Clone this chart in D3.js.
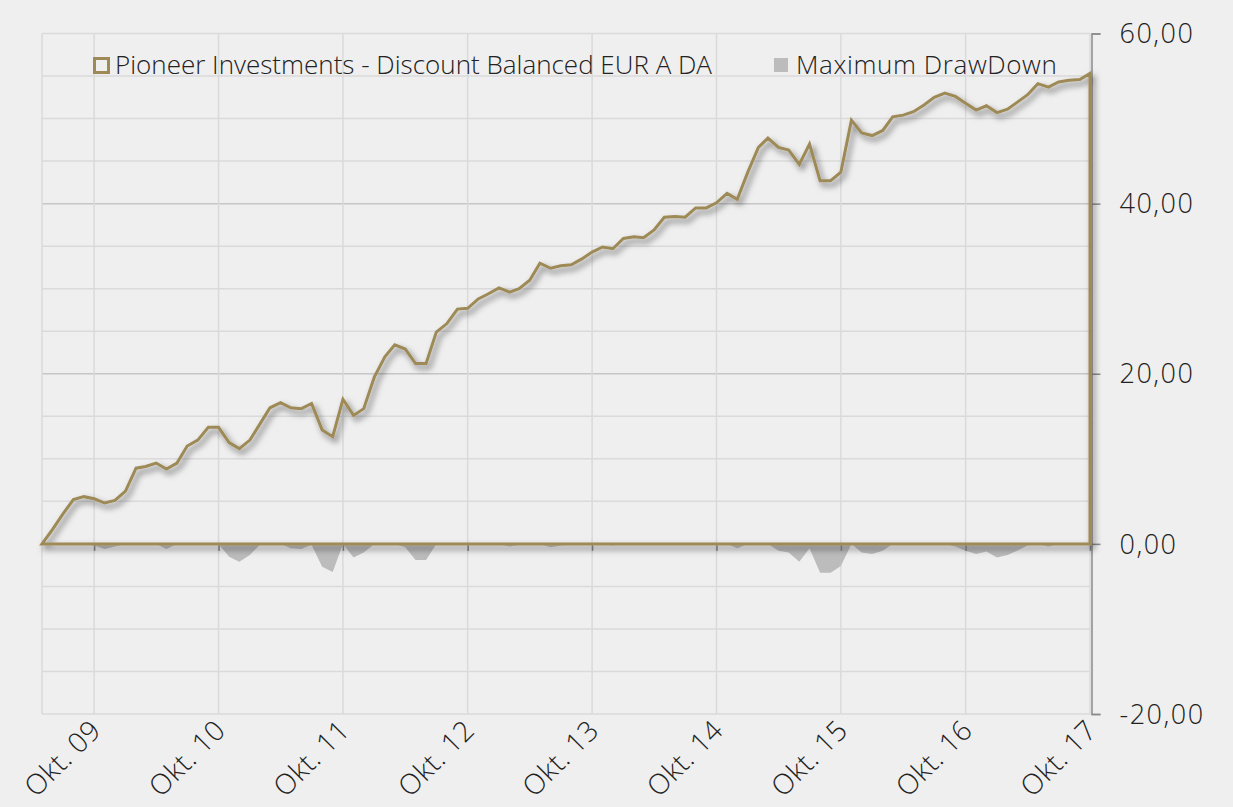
<!DOCTYPE html>
<html>
<head>
<meta charset="utf-8">
<script src="https://cdn.jsdelivr.net/npm/d3@7"></script>
<style>
  body { margin: 0; background: #efefef; }
  svg text { font-family: "Open Sans", sans-serif; font-weight: 300; fill: #222; }
</style>
</head>
<body>
<div id="chart"></div>
<script>
// monthly values, May 2009 .. Oct 2017 (cumulative performance in %)
var fundValues = [
  0, 1.7, 3.5, 5.2, 5.55, 5.3, 4.8, 5.1, 6.2, 8.9,
  9.1, 9.5, 8.8, 9.5, 11.5, 12.2, 13.7, 13.7, 11.9, 11.2,
  12.2, 14.2, 16.0, 16.6, 16.0, 15.9, 16.5, 13.4, 12.6, 17.0,
  15.1, 15.9, 19.6, 22.0, 23.4, 22.9, 21.2, 21.2, 24.9, 25.9,
  27.6, 27.7, 28.8, 29.4, 30.1, 29.6, 30.0, 31.0, 33.0, 32.4,
  32.7, 32.8, 33.5, 34.3, 34.9, 34.7, 35.9, 36.1, 36.0, 36.9,
  38.4, 38.5, 38.4, 39.5, 39.5, 40.1, 41.2, 40.5, 43.7, 46.6,
  47.7, 46.6, 46.3, 44.6, 47.0, 42.7, 42.7, 43.7, 49.8, 48.3,
  48.0, 48.6, 50.2, 50.4, 50.8, 51.6, 52.5, 53.0, 52.6, 51.8,
  51.0, 51.5, 50.7, 51.1, 51.9, 52.8, 54.1, 53.7, 54.3, 54.5,
  54.6, 55.3
];

var drawdownValues = [
  0, 0, 0, 0, 0, -0.2, -0.6, -0.3, 0, 0,
  0, 0, -0.6, 0, 0, 0, 0, 0, -1.5, -2.1,
  -1.3, 0, 0, 0, -0.5, -0.6, -0.1, -2.7, -3.3, 0,
  -1.6, -1.0, 0, 0, 0, -0.4, -1.9, -1.9, 0, 0,
  0, 0, 0, 0, 0, -0.3, -0.1, 0, 0, -0.4,
  -0.2, -0.1, 0, 0, 0, -0.2, 0, 0, -0.1, 0,
  0, 0, -0.1, 0, 0, 0, 0, -0.5, 0, 0,
  0, -0.8, -1.0, -2.1, -0.5, -3.4, -3.4, -2.6, 0, -1.0,
  -1.2, -0.8, 0, 0, 0, 0, 0, 0, -0.3, -0.8,
  -1.2, -0.9, -1.6, -1.3, -0.8, -0.2, 0, -0.3, 0, 0,
  0, 0
];

var tickLabels = ["Okt. 09", "Okt. 10", "Okt. 11", "Okt. 12", "Okt. 13",
                  "Okt. 14", "Okt. 15", "Okt. 16", "Okt. 17"];
var yTicks = [-20, 0, 20, 40, 60];
var seriesNames = ["Pioneer Investments - Discount Balanced EUR A DA", "Maximum DrawDown"];

var svgWidth = 1233;
var svgHeight = 807;
var chartMargin = { top: 33.5, right: 143, bottom: 93, left: 42 };
var chartWidth = svgWidth - chartMargin.left - chartMargin.right;
var chartHeight = svgHeight - chartMargin.top - chartMargin.bottom;

var gold = "#9d8a57";
var startDate = new Date(2009, 4, 1);
var dates = fundValues.map(function(d, i) { return d3.timeMonth.offset(startDate, i); });
var tickDates = tickLabels.map(function(d, i) { return new Date(2009 + i, 9, 1); });

var svg = d3.select("#chart")
  .append("svg")
  .attr("width", svgWidth)
  .attr("height", svgHeight);

var defs = svg.append("defs");
var shadow = defs.append("filter")
  .attr("id", "shadow")
  .attr("x", "-5%").attr("y", "-5%")
  .attr("width", "115%").attr("height", "120%");
shadow.append("feDropShadow")
  .attr("dx", 3).attr("dy", 4)
  .attr("stdDeviation", 3)
  .attr("flood-color", "#000")
  .attr("flood-opacity", 0.55);

var chart = svg.append("g")
  .attr("transform", `translate(${chartMargin.left}, ${chartMargin.top})`);

var x = d3.scaleTime()
  .domain([dates[0], dates[dates.length - 1]])
  .range([0, chartWidth]);

var y = d3.scaleLinear()
  .domain([-20, 60])
  .range([chartHeight, 0]);

// grid
chart.append("g")
  .selectAll("line")
  .data(d3.range(-20, 61, 5))
  .enter().append("line")
  .attr("x1", 0)
  .attr("x2", chartWidth)
  .attr("y1", function(d) { return y(d); })
  .attr("y2", function(d) { return y(d); })
  .attr("stroke", function(d) { return (d % 20 === 0 && d !== 60 && d !== -20) ? "#c6c6c6" : "#dadada"; })
  .attr("stroke-width", 1.5);

chart.append("g")
  .selectAll("line")
  .data([dates[0]].concat(tickDates))
  .enter().append("line")
  .attr("x1", function(d) { return x(d); })
  .attr("x2", function(d) { return x(d); })
  .attr("y1", 0)
  .attr("y2", chartHeight)
  .attr("stroke", "#dadada")
  .attr("stroke-width", 1.5);

// drawdown area
var ddArea = d3.area()
  .x(function(d, i) { return x(dates[i]); })
  .y0(y(0))
  .y1(function(d) { return y(d); });

chart.append("path")
  .datum(drawdownValues)
  .attr("d", ddArea)
  .attr("fill", "#bcbcbc");

// x axis ticks on the zero line
var xAxis = d3.axisBottom(x).tickValues(tickDates).tickSize(7).tickFormat("");
chart.append("g")
  .attr("transform", "translate(0," + y(0) + ")")
  .call(xAxis)
  .call(function(g) { g.select(".domain").remove(); })
  .selectAll("line").attr("stroke", "#8a8a8a").attr("stroke-width", 1.5);

// x labels
var xLabels = d3.axisBottom(x).tickValues(tickDates).tickSize(0)
  .tickFormat(function(d, i) { return tickLabels[i]; });
var xl = chart.append("g")
  .attr("transform", "translate(0," + chartHeight + ")")
  .call(xLabels);
xl.select(".domain").remove();
xl.selectAll("text")
  .attr("font-size", 28)
  .attr("letter-spacing", 0.5)
  .attr("x", 0).attr("y", 0).attr("dy", 0)
  .attr("text-anchor", "end")
  .attr("transform", "translate(8,18) rotate(-45)");

// right axis
var yAxis = d3.axisRight(y)
  .tickValues(yTicks)
  .tickSize(9)
  .tickPadding(19)
  .tickFormat(function(d) { return d3.format(".2f")(d).replace(".", ",").replace("\u2212", "-"); });
var ya = chart.append("g")
  .attr("transform", "translate(" + (chartWidth + 1.5) + ",0)")
  .call(yAxis);
ya.select(".domain").attr("stroke", "#8a8a8a").attr("stroke-width", 1.5);
ya.selectAll("line").attr("stroke", "#8a8a8a").attr("stroke-width", 1.5);
ya.selectAll("text")
  .attr("font-size", 27)
  .attr("letter-spacing", 1.5)
  .attr("dy", "0.34em");

// fund area outline
var fundArea = d3.area()
  .x(function(d, i) { return x(dates[i]); })
  .y0(y(0))
  .y1(function(d) { return y(d); });

chart.append("path")
  .datum(fundValues)
  .attr("d", fundArea)
  .attr("fill", "none")
  .attr("stroke", gold)
  .attr("stroke-width", 3)
  .attr("stroke-linejoin", "miter")
  .attr("filter", "url(#shadow)");

// legend
var legend = svg.append("g");
legend.append("rect")
  .attr("x", 94.5).attr("y", 58.5)
  .attr("width", 14).attr("height", 14)
  .attr("fill", "none")
  .attr("stroke", gold)
  .attr("stroke-width", 3);
legend.append("text")
  .attr("x", 115).attr("y", 74)
  .attr("font-size", 26)
  .text(seriesNames[0]);
legend.append("rect")
  .attr("x", 774).attr("y", 58)
  .attr("width", 14).attr("height", 14)
  .attr("fill", "#bcbcbc");
legend.append("text")
  .attr("x", 796).attr("y", 74)
  .attr("font-size", 26)
  .attr("letter-spacing", 0.6)
  .text(seriesNames[1]);
</script>
</body>
</html>
